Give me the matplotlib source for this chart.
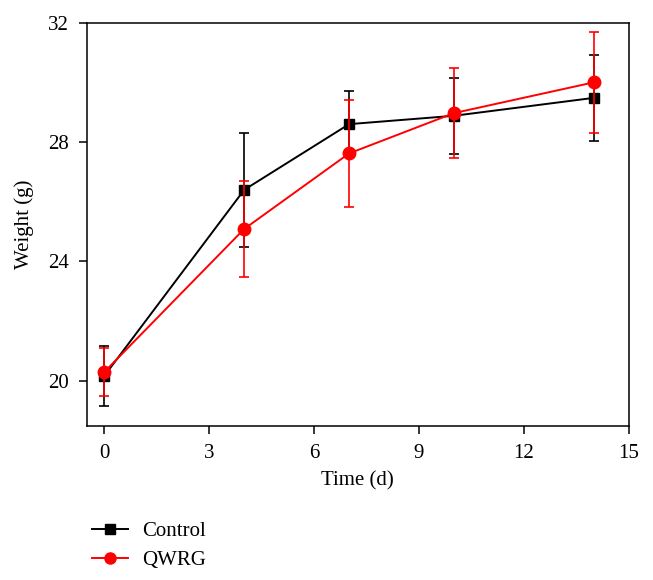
import matplotlib.pyplot as plt
from matplotlib.lines import Line2D

plt.rcParams['font.family'] = ['Liberation Serif', 'DejaVu Serif']

days = [0, 4, 7, 10, 14]
control = [20.17, 26.4, 28.6, 28.88, 29.48]
control_err = [1.0, 1.9, 1.1, 1.28, 1.44]
qwrg = [20.3, 25.09, 27.62, 28.97, 30.0]
qwrg_err = [0.81, 1.6, 1.78, 1.5, 1.7]

fig = plt.figure(figsize=(6.53, 5.8), dpi=100)
ax = fig.add_axes([0.133, 0.266, 0.830, 0.695])

ax.errorbar(days, control, yerr=control_err, color='black', marker='s',
            markersize=7.5, linewidth=1.4, elinewidth=1.2, capsize=3.5,
            capthick=1.2, zorder=2)
ax.errorbar(days, qwrg, yerr=qwrg_err, color='#ff0000', marker='o',
            markersize=9, linewidth=1.4, elinewidth=1.2, capsize=3.5,
            capthick=1.2, zorder=3)

ax.set_xlim(-0.5, 15)
ax.set_ylim(18.5, 32)
ax.set_xticks([0, 3, 6, 9, 12, 15])
ax.set_yticks([20, 24, 28, 32])
ax.tick_params(direction='out', length=6, width=1.1, labelsize=15, pad=7,
               top=False, right=False)
for s in ax.spines.values():
    s.set_linewidth(1.1)

ax.set_xlabel('Time (d)', fontsize=15, labelpad=6)
ax.set_ylabel('Weight (g)', fontsize=15, labelpad=10)

handles = [
    Line2D([], [], color='black', marker='s', markersize=7, linewidth=1.4),
    Line2D([], [], color='#ff0000', marker='o', markersize=8, linewidth=1.4),
]
fig.legend(handles, ['Control', 'QWRG'], loc='upper left',
           bbox_to_anchor=(0.128, 0.115), frameon=False, fontsize=15,
           handlelength=1.75, labelspacing=0.45, handletextpad=0.65,
           borderaxespad=0)

fig.savefig('out.png', dpi=100)
